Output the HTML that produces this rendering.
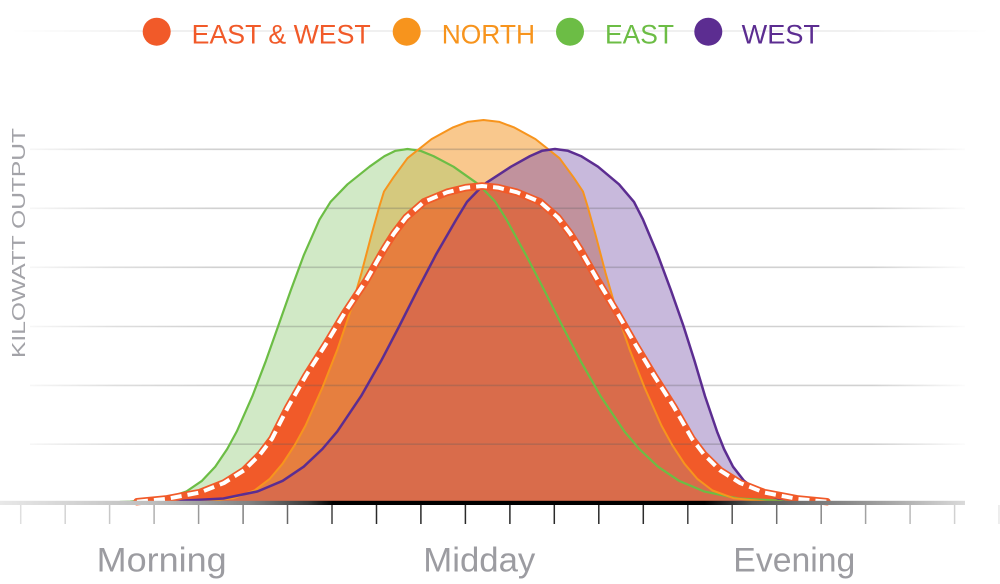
<!DOCTYPE html>
<html>
<head>
<meta charset="utf-8">
<style>
html,body{margin:0;padding:0;background:#fff;}
svg{display:block;}
</style>
</head>
<body>
<svg width="1000" height="584" viewBox="0 0 1000 584" xmlns="http://www.w3.org/2000/svg">
<defs>
  <path id="fG" d="M120,502 L130,501.6 165.4,498.5 186.5,491.4 202,480.8 215.2,466.7 227.2,449 236.8,431.4 252.4,396.1 265.9,360.8 278.4,325.5 290.8,290.2 303.9,254.9 319.5,219.6 330.5,201.9 347.5,184.3 369.5,166.7 384.5,156.1 395.5,150.8 407.5,149 420.5,150.8 433.5,156.1 453.5,166.7 478.5,184.3 495.5,201.9 506.5,219.6 525.9,254.9 544.3,290.2 562.1,325.5 580.5,360.8 600.6,396.1 624.4,431.4 639.3,449 658,466.7 679,480.8 704,491.4 738.3,498.5 797,501.6 820,502 Z"/>
  <path id="fW" d="M140,502 L165,501.6 223.4,498.5 257.7,491.4 282.7,480.8 303.7,466.7 322.4,449 337.3,431.4 361.1,396.1 381.2,360.8 399.6,325.5 417.4,290.2 435.8,254.9 456.2,219.6 467,201.9 484,184.3 511,166.7 530,156.1 542,150.8 555,149 568,150.8 581,156.1 598,166.7 619,184.3 634,201.9 643,219.6 657.8,254.9 670.9,290.2 683.3,325.5 694.5,360.8 705,396.1 717,431.4 724,449 733,466.7 744,480.8 758,491.4 778,498.5 810,501.6 830,502 Z"/>
  <path id="fN" d="M170,502 L200.5,501.6 233.5,498.2 254.5,490.5 269.5,479.1 282.5,463.8 295,444.7 305.5,425.6 322.5,387.4 337.5,349.2 350.5,311 361.5,272.8 371.5,234.6 379.5,206 384,191.5 393.5,177.3 407.5,158.2 431.5,139.1 452.5,127.6 467.5,121.9 483.5,120 499.5,121.9 514.5,127.6 535.5,139.1 559.5,158.2 573.5,177.3 583,191.5 587.5,206 595.5,234.6 605.5,272.8 616.5,311 629.5,349.2 644.5,387.4 661.5,425.6 672,444.7 684.5,463.8 697.5,479.1 712.5,490.5 733.5,498.2 766.5,501.6 800,502 Z"/>
  <path id="fE" d="M125,502 L137,501.7 167,498.8 200,492.5 224,483 244,470.4 260,454.6 272,438.8 288,407.2 306,375.6 326,344 345,312.4 366,280.8 384,249.2 394,233.4 406,217.6 424,201.8 447,192.3 466,187.6 482,186 498,187.6 517,192.3 540,201.8 558,217.6 570,233.4 580,249.2 598,280.8 617,312.4 635,344 654,375.6 674,407.2 692,438.8 704,454.6 720,470.4 740,483 764,492.5 797,498.8 827,501.7 840,502 Z"/>
  <clipPath id="cN"><use href="#fN"/></clipPath>
  <clipPath id="cE"><use href="#fE"/></clipPath>
  <linearGradient id="gridg" gradientUnits="userSpaceOnUse" x1="30" y1="0" x2="965" y2="0">
    <stop offset="0" stop-color="#5a5a5a" stop-opacity="0.05"/>
    <stop offset="0.09" stop-color="#5a5a5a" stop-opacity="0.2"/>
    <stop offset="0.2" stop-color="#5a5a5a" stop-opacity="0.28"/>
    <stop offset="0.9" stop-color="#5a5a5a" stop-opacity="0.28"/>
    <stop offset="1" stop-color="#5a5a5a" stop-opacity="0.02"/>
  </linearGradient>
  <linearGradient id="baseg" gradientUnits="userSpaceOnUse" x1="0" y1="0" x2="965" y2="0">
    <stop offset="0" stop-color="#e8e8e8"/>
    <stop offset="0.16" stop-color="#bdbdbd"/>
    <stop offset="0.26" stop-color="#808080"/>
    <stop offset="0.32" stop-color="#3a3a3a"/>
    <stop offset="0.345" stop-color="#000"/>
    <stop offset="0.73" stop-color="#000"/>
    <stop offset="0.78" stop-color="#555"/>
    <stop offset="0.88" stop-color="#8a8a8a"/>
    <stop offset="1" stop-color="#dadada"/>
  </linearGradient>
  <linearGradient id="tickg" gradientUnits="userSpaceOnUse" x1="0" y1="0" x2="1000" y2="0">
    <stop offset="0" stop-color="#e4e4e4"/>
    <stop offset="0.11" stop-color="#c8c8c8"/>
    <stop offset="0.2" stop-color="#999"/>
    <stop offset="0.29" stop-color="#666"/>
    <stop offset="0.36" stop-color="#2a2a2a"/>
    <stop offset="0.64" stop-color="#2a2a2a"/>
    <stop offset="0.73" stop-color="#555"/>
    <stop offset="0.82" stop-color="#888"/>
    <stop offset="0.91" stop-color="#bbb"/>
    <stop offset="1" stop-color="#e8e8e8"/>
  </linearGradient>
  <linearGradient id="legl" gradientUnits="userSpaceOnUse" x1="10" y1="0" x2="990" y2="0">
    <stop offset="0" stop-color="#e6e6e6" stop-opacity="0"/>
    <stop offset="0.15" stop-color="#e6e6e6"/>
    <stop offset="0.85" stop-color="#e6e6e6"/>
    <stop offset="1" stop-color="#e6e6e6" stop-opacity="0"/>
  </linearGradient>
</defs>

<!-- legend guide line -->
<line x1="10" y1="31" x2="990" y2="31" stroke="url(#legl)" stroke-width="1.2"/>

<!-- legend -->
<g font-family="'Liberation Sans', sans-serif" font-size="26.5">
  <circle cx="156.7" cy="31.7" r="14" fill="#f15a29"/>
  <text x="191.7" y="43.3" fill="#f15a29" textLength="179" lengthAdjust="spacingAndGlyphs">EAST &amp; WEST</text>
  <circle cx="406.7" cy="31.7" r="14" fill="#f7941d"/>
  <text x="441.7" y="43.3" fill="#f7941d" textLength="93.3" lengthAdjust="spacingAndGlyphs">NORTH</text>
  <circle cx="570" cy="31.7" r="14" fill="#6cbd45"/>
  <text x="605" y="43.3" fill="#6cbd45" textLength="69" lengthAdjust="spacingAndGlyphs">EAST</text>
  <circle cx="708.3" cy="31.7" r="14" fill="#5c2d91"/>
  <text x="741.7" y="43.3" fill="#5c2d91" textLength="78.3" lengthAdjust="spacingAndGlyphs">WEST</text>
</g>

<!-- y axis label -->
<text transform="translate(25,243) rotate(-90)" text-anchor="middle" font-family="'Liberation Sans', sans-serif" font-size="18.5" fill="#a3a3a8" textLength="230" lengthAdjust="spacingAndGlyphs">KILOWATT OUTPUT</text>

<!-- fills -->
<use href="#fG" fill="#d1e9c6"/>
<use href="#fW" fill="#c8b9dc"/>
<use href="#fN" fill="#f9c88d"/>
<g clip-path="url(#cN)">
  <use href="#fG" fill="#d5c97e"/>
  <use href="#fW" fill="#c1929d"/>
</g>
<use href="#fE" fill="#f15a29"/>
<g clip-path="url(#cE)">
  <g clip-path="url(#cN)">
    <use href="#fN" fill="#e67f3f"/>
    <use href="#fW" fill="#d96c4b"/>
  </g>
</g>

<!-- gridlines -->
<g stroke="url(#gridg)" stroke-width="1.6">
  <line x1="30" y1="149.3" x2="965" y2="149.3"/>
  <line x1="30" y1="208.3" x2="965" y2="208.3"/>
  <line x1="30" y1="267.3" x2="965" y2="267.3"/>
  <line x1="30" y1="326.5" x2="965" y2="326.5"/>
  <line x1="30" y1="385.4" x2="965" y2="385.4"/>
  <line x1="30" y1="444.2" x2="965" y2="444.2"/>
</g>

<!-- curve strokes (open paths) -->
<g fill="none" stroke-linejoin="round" stroke-linecap="round">
  <path stroke="#6cbd45" stroke-width="2.2" d="M120,502 L130,501.6 165.4,498.5 186.5,491.4 202,480.8 215.2,466.7 227.2,449 236.8,431.4 252.4,396.1 265.9,360.8 278.4,325.5 290.8,290.2 303.9,254.9 319.5,219.6 330.5,201.9 347.5,184.3 369.5,166.7 384.5,156.1 395.5,150.8 407.5,149 420.5,150.8 433.5,156.1 453.5,166.7 478.5,184.3 495.5,201.9 506.5,219.6 525.9,254.9 544.3,290.2 562.1,325.5 580.5,360.8 600.6,396.1 624.4,431.4 639.3,449 658,466.7 679,480.8 704,491.4 738.3,498.5 797,501.6 820,502"/>
  <path stroke="#f7941d" stroke-width="2" d="M170,502 L200.5,501.6 233.5,498.2 254.5,490.5 269.5,479.1 282.5,463.8 295,444.7 305.5,425.6 322.5,387.4 337.5,349.2 350.5,311 361.5,272.8 371.5,234.6 379.5,206 384,191.5 393.5,177.3 407.5,158.2 431.5,139.1 452.5,127.6 467.5,121.9 483.5,120 499.5,121.9 514.5,127.6 535.5,139.1 559.5,158.2 573.5,177.3 583,191.5 587.5,206 595.5,234.6 605.5,272.8 616.5,311 629.5,349.2 644.5,387.4 661.5,425.6 672,444.7 684.5,463.8 697.5,479.1 712.5,490.5 733.5,498.2 766.5,501.6 800,502"/>
  <path stroke="#5c2d91" stroke-width="2.5" d="M140,502 L165,501.6 223.4,498.5 257.7,491.4 282.7,480.8 303.7,466.7 322.4,449 337.3,431.4 361.1,396.1 381.2,360.8 399.6,325.5 417.4,290.2 435.8,254.9 456.2,219.6 467,201.9 484,184.3 511,166.7 530,156.1 542,150.8 555,149 568,150.8 581,156.1 598,166.7 619,184.3 634,201.9 643,219.6 657.8,254.9 670.9,290.2 683.3,325.5 694.5,360.8 705,396.1 717,431.4 724,449 733,466.7 744,480.8 758,491.4 778,498.5 810,501.6 830,502"/>
  <path stroke="#f15a29" stroke-width="7.5" d="M137,501.7 L167,498.8 200,492.5 224,483 244,470.4 260,454.6 272,438.8 288,407.2 306,375.6 326,344 345,312.4 366,280.8 384,249.2 394,233.4 406,217.6 424,201.8 447,192.3 466,187.6 482,186 498,187.6 517,192.3 540,201.8 558,217.6 570,233.4 580,249.2 598,280.8 617,312.4 635,344 654,375.6 674,407.2 692,438.8 704,454.6 720,470.4 740,483 764,492.5 797,498.8 827,501.7"/>
  <path stroke="#ffffff" stroke-width="4" stroke-dasharray="11 6" stroke-linecap="butt" d="M137,501.7 L167,498.8 200,492.5 224,483 244,470.4 260,454.6 272,438.8 288,407.2 306,375.6 326,344 345,312.4 366,280.8 384,249.2 394,233.4 406,217.6 424,201.8 447,192.3 466,187.6 482,186 498,187.6 517,192.3 540,201.8 558,217.6 570,233.4 580,249.2 598,280.8 617,312.4 635,344 654,375.6 674,407.2 692,438.8 704,454.6 720,470.4 740,483 764,492.5 797,498.8 827,501.7"/>
</g>

<!-- baseline -->
<rect x="0" y="500.8" width="965" height="4.2" fill="url(#baseg)"/>

<!-- ticks -->
<path stroke="url(#tickg)" stroke-width="1.5" fill="none" d="M20.7,505V524 M65.2,505V524 M109.6,505V524 M154.1,505V524 M198.6,505V524 M243.1,505V524 M287.5,505V524 M332,505V524 M376.5,505V524 M420.9,505V524 M465.4,505V524 M509.9,505V524 M554.3,505V524 M598.8,505V524 M643.3,505V524 M687.8,505V524 M732.2,505V524 M776.7,505V524 M821.2,505V524 M865.6,505V524 M910.1,505V524 M954.6,505V524 M999,505V524"/>

<!-- x labels -->
<g font-family="'Liberation Sans', sans-serif" font-size="34" fill="#9c9ca1">
  <text x="96.7" y="571.7" textLength="130" lengthAdjust="spacingAndGlyphs">Morning</text>
  <text x="423.3" y="571.7" textLength="112" lengthAdjust="spacingAndGlyphs">Midday</text>
  <text x="733.3" y="571.7" textLength="122" lengthAdjust="spacingAndGlyphs">Evening</text>
</g>
</svg>
</body>
</html>
